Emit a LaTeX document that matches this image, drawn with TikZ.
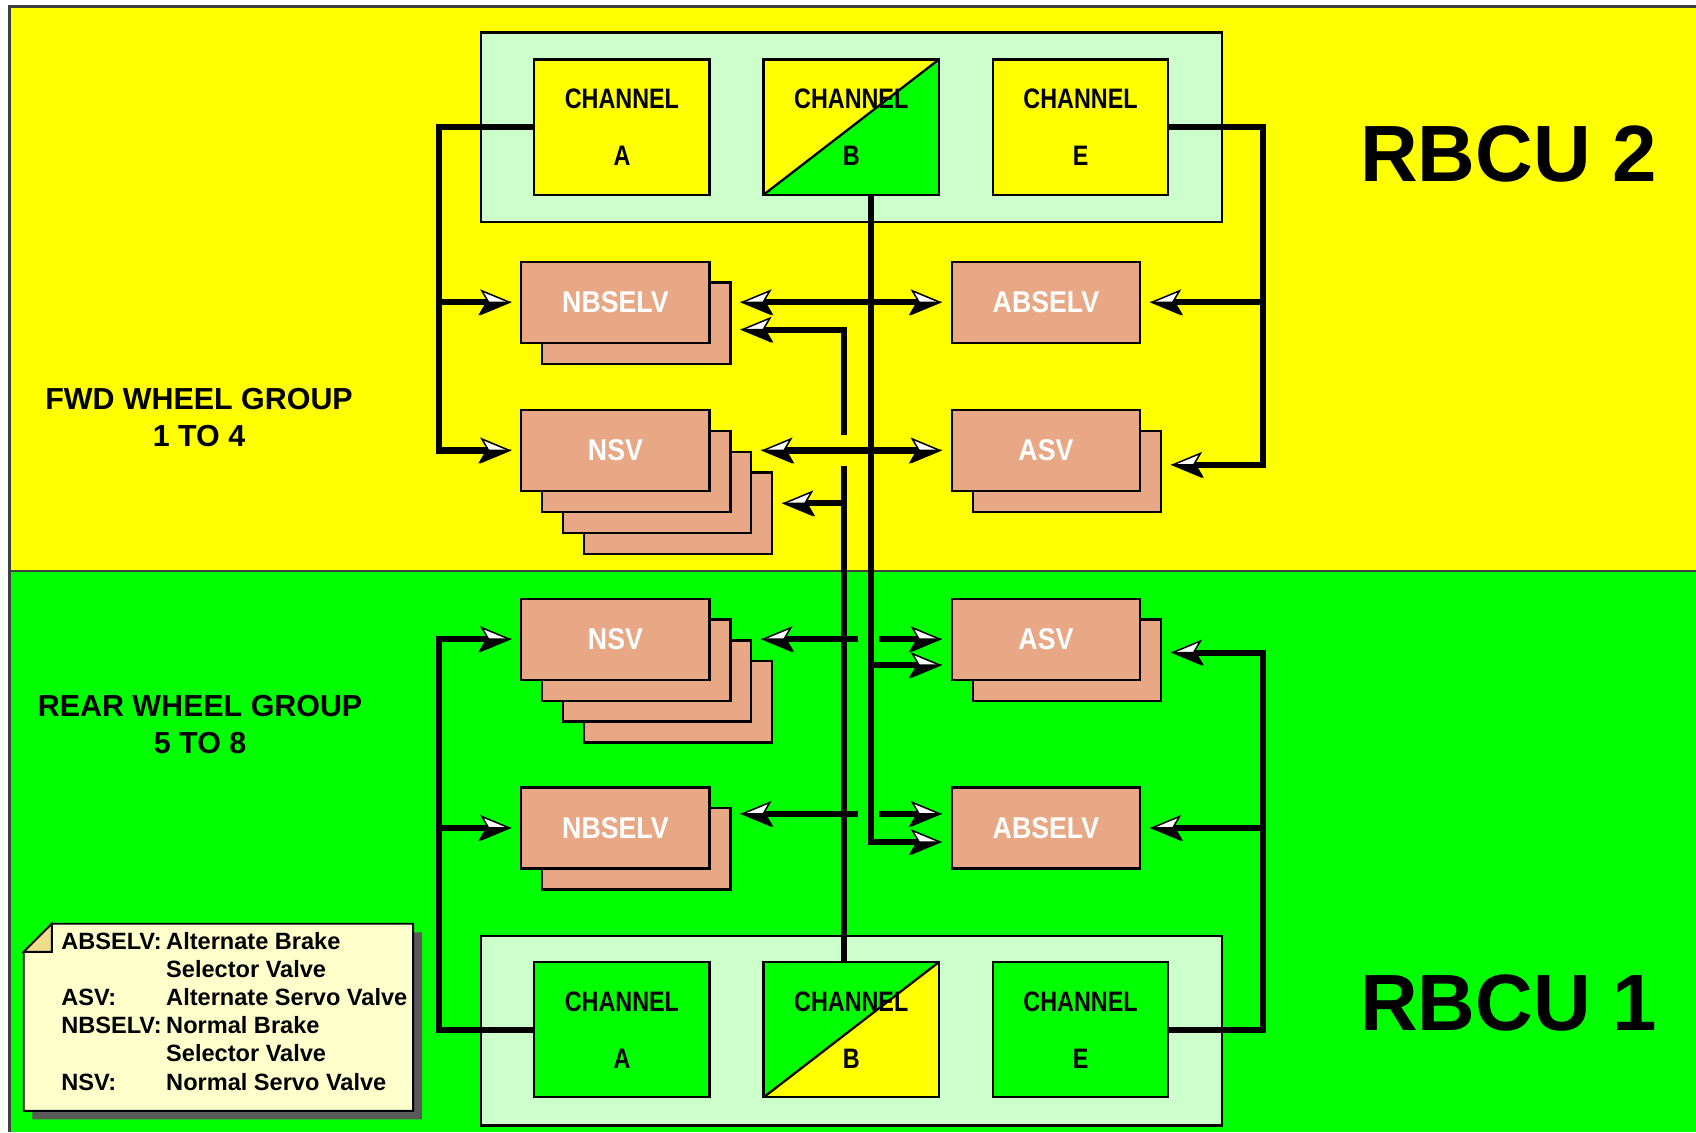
\documentclass[tikz,border=0pt]{standalone}
\usepackage{fontspec}
\setmainfont{Liberation Sans}
\newfontfamily\narrowsans{Liberation Sans}[FakeStretch=0.89]
\newfontfamily\chansans{Liberation Sans}[FakeStretch=0.83]
\usetikzlibrary{arrows.meta,calc}
\definecolor{rbcuyellow}{HTML}{FFFF00}
\definecolor{rbcugreen}{HTML}{00FF00}
\definecolor{palegreen}{HTML}{CCFFCC}
\definecolor{valvepink}{HTML}{E9A885}
\definecolor{notepaper}{HTML}{FFFFCC}
\definecolor{notefold}{HTML}{EEDD88}
\definecolor{framegray}{HTML}{404040}
\tikzset{vtip/.tip={Stealth[length=2.9mm,width=2.4mm,inset=0.7mm,line width=0.4pt]}}
% stacked valve boxes: name, front position, last back layer, label
\newcommand\valvestack[4]{%
  \foreach \layer in {#3,...,1}{\node[valve] (#1\layer) at ($#2+(\layer*1.93mm,-\layer*1.93mm)$) {};}
  \node[valve] (#10) at #2 {#4};}
\begin{document}
\begin{tikzpicture}[x=0.1mm,y=0.1mm,
  wire/.style={line width=1.6pt},
  tipR/.style={shorten >=0.8mm,-{vtip[fill=white]},postaction={draw,-{vtip[harpoon,swap,fill=black]}}},
  tipL/.style={shorten >=0.8mm,-{vtip[fill=white]},postaction={draw,-{vtip[harpoon,fill=black]}}},
  unitbox/.style={draw=black,line width=0.6pt,fill=palegreen,minimum width=68.5mm,minimum height=17.5mm},
  channel/.style={draw=black,line width=0.6pt,minimum width=16.2mm,minimum height=12.5mm,inner sep=0pt,align=center,font=\chansans\bfseries\fontsize{7.4pt}{15pt}\selectfont},
  halfB/.style={path picture={\fill[#1] (path picture bounding box.south west) -- (path picture bounding box.south east) -- (path picture bounding box.north east) -- cycle;
    \draw[line width=0.6pt] (path picture bounding box.south west) -- (path picture bounding box.north east);}},
  valve/.style={draw=black,line width=0.6pt,fill=valvepink,minimum width=17.4mm,minimum height=7.5mm,inner sep=0pt,text=white,font=\narrowsans\bfseries\fontsize{7.9pt}{9pt}\selectfont},
  rbcu/.style={font=\bfseries\fontsize{21pt}{25pt}\selectfont},
  group/.style={align=center,font=\bfseries\fontsize{8pt}{9.7pt}\selectfont}]
\useasboundingbox (0,0) rectangle (1568,-1047);
% background halves
\fill[white] (0,0) rectangle (1568,-1047);
\fill[rbcuyellow] (9,-6) rectangle (1568,-528);
\fill[rbcugreen] (9,-528) rectangle (1568,-1047);
\draw[framegray,line width=0.7pt] (9,-1047) -- (9,-6) -- (1568,-6);
\draw[framegray,line width=0.5pt] (9,-528) -- (1568,-528);
% the two computers
\node[unitbox] (rbcu2) at (787.5,-117.5) {};
\node[channel,fill=rbcuyellow] (a2) at (575,-117.5) {CHANNEL\\A};
\node[channel,fill=rbcuyellow,halfB=rbcugreen] (b2) at (787,-117.5) {CHANNEL\\B};
\node[channel,fill=rbcuyellow] (e2) at (999,-117.5) {CHANNEL\\E};
\node[unitbox] (rbcu1) at (787.5,-953) {};
\node[channel,fill=rbcugreen] (a1) at (575,-952) {CHANNEL\\A};
\node[channel,fill=rbcugreen,halfB=rbcuyellow] (b1) at (787,-952) {CHANNEL\\B};
\node[channel,fill=rbcugreen] (e1) at (999,-952) {CHANNEL\\E};
\node[rbcu] (lbl2) at (1395,-142) {RBCU 2};
\node[rbcu] (lbl1) at (1395,-927) {RBCU 1};
\node[group] (fwd) at (184,-386) {FWD WHEEL GROUP\\1 TO 4};
\node[group] (rear) at (185,-670) {REAR WHEEL GROUP\\5 TO 8};
% valves
\valvestack{nbF}{(569,-279.5)}{1}{NBSELV}
\valvestack{nsF}{(569,-416.5)}{3}{NSV}
\node[valve] (abF) at (967,-279.5) {ABSELV};
\valvestack{asF}{(967,-416.5)}{1}{ASV}
\valvestack{nsR}{(569,-591)}{3}{NSV}
\valvestack{nbR}{(569,-765.5)}{1}{NBSELV}
\valvestack{asR}{(967,-591)}{1}{ASV}
\node[valve] (abR) at (967,-765.5) {ABSELV};
% rails and bus points
\coordinate (busT) at ([xshift=1.8mm]b2.south);
\coordinate (busR) at ([xshift=-0.7mm]b1.north);
\coordinate (railL2) at ([xshift=-8.7mm]a2.west);
\coordinate (railR2) at ([xshift=8.7mm]e2.east);
\coordinate (railL1) at ([xshift=-8.7mm]a1.west);
\coordinate (railR1) at ([xshift=8.7mm]e1.east);
\coordinate (nbFlo) at ([yshift=-0.6mm]nbF1.east);
\coordinate (nsFt) at ([yshift=0.9mm]nsF3.east);
\coordinate (asFt) at ([yshift=0.6mm]asF1.east);
\coordinate (asRt) at ([yshift=0.7mm]asR1.east);
\coordinate (asRlo) at ([yshift=-2.4mm]asR0.west);
\coordinate (abRhi) at ([yshift=1.3mm]abR.west);
\coordinate (abRlo) at ([yshift=-1.3mm]abR.west);
% channel A and E lines
\draw[wire,tipR] (a2.west) -- (railL2) |- (nsF0.west);
\draw[wire,tipR] (railL2 |- nbF0.west) -- (nbF0.west);
\draw[wire,tipL] (e2.east) -- (railR2) |- (asFt);
\draw[wire,tipL] (railR2 |- abF.east) -- (abF.east);
\draw[wire,tipR] (a1.west) -- (railL1) |- (nsR0.west);
\draw[wire,tipR] (railL1 |- nbR0.west) -- (nbR0.west);
\draw[wire,tipL] (e1.east) -- (railR1) |- (asRt);
\draw[wire,tipL] (railR1 |- abR.east) -- (abR.east);
% channel B of RBCU 2
\draw[wire,tipR] (busT) |- (abRlo);
\draw[wire,tipR] (busT |- abF.west) -- (abF.west);
\draw[wire,tipL] (busT |- abF.west) -- (nbF1.east |- abF.west);
\draw[wire,tipR] (busT |- asF0.west) -- (asF0.west);
\draw[wire,tipL] (busT |- asF0.west) -- (nsF2.east |- asF0.west);
\draw[wire,tipR] (busT |- asRlo) -- (asRlo);
% channel B of RBCU 1
\draw[wire] (busR) -- ($(busR |- asF0.west)+(0,-1.4mm)$);
\draw[wire,tipL] ($(busR |- asF0.west)+(0,1.4mm)$) |- (nbFlo);
\draw[wire,tipL] (busR |- nsFt) -- (nsFt);
\draw[wire,tipL] ($(busR |- asR0.west)+(1.3mm,0)$) -- (nsR2.east |- asR0.west);
\draw[wire,tipR] ($(busT |- asR0.west)+(0.8mm,0)$) -- (asR0.west);
\draw[wire,tipL] ($(busR |- abRhi)+(1.3mm,0)$) -- (nbR1.east |- abRhi);
\draw[wire,tipR] ($(busT |- abRhi)+(0.8mm,0)$) -- (abRhi);
% legend note
\fill[black!65] (56,-862) -- (390,-862) -- (390,-1035) -- (30,-1035) -- (30,-888) -- cycle;
\filldraw[fill=notepaper,draw=black,line width=0.5pt] (48,-854) -- (382,-854) -- (382,-1027) -- (22,-1027) -- (22,-880) -- cycle;
\filldraw[fill=notefold,draw=black,line width=0.5pt] (48,-854) -- (22,-880) -- (48,-880) -- cycle;
\node[anchor=west,inner sep=0pt,align=left,font=\bfseries\fontsize{6.2pt}{7.4pt}\selectfont] (legend) at (56,-935)
  {\makebox[9.7mm][l]{ABSELV:}Alternate Brake\\\makebox[9.7mm][l]{}Selector Valve\\\makebox[9.7mm][l]{ASV:}Alternate Servo Valve\\
   \makebox[9.7mm][l]{NBSELV:}Normal Brake\\\makebox[9.7mm][l]{}Selector Valve\\\makebox[9.7mm][l]{NSV:}Normal Servo Valve};
\end{tikzpicture}
\end{document}
